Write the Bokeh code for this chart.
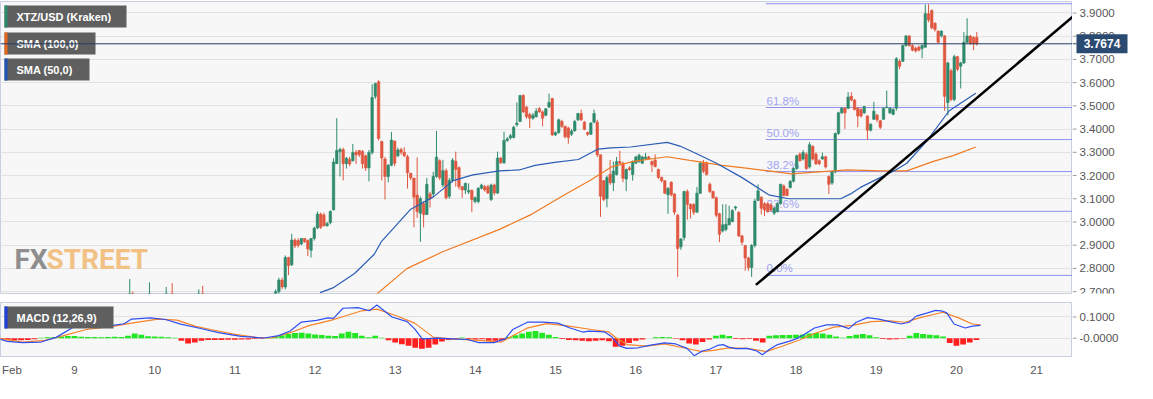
import numpy as np
from bokeh.plotting import figure
from bokeh.models import Range1d, FixedTicker, Span, Label, BoxAnnotation, ColumnDataSource, Grid
from bokeh.layouts import column, row
from bokeh.embed import file_html
from bokeh.resources import INLINE
from bokeh.core.properties import value

# ---------------- data ----------------
# hourly candles, Feb 11 ~13:00 .. Feb 20 ~07:00 (x in days of February)
CANDLE_START, CANDLE_END = 11.509, 20.254
OPEN = [2.69,2.70,2.75,2.72,2.847,2.816,2.922,2.92,2.905,2.929, 2.92,2.878,2.929,2.974,3.034,3.03,2.984,2.997,3.052,3.251,
        3.303,3.312,3.251,3.27,3.264,3.30,3.308,3.303,3.285,3.233, 3.299,3.541,3.604,3.347,3.271,3.196,3.244,3.349,3.285,3.312,
        3.30,3.281,3.21,3.189,3.116,3.038,3.079,3.032,3.121,3.121, 3.196,3.264,
        3.159,3.221,3.111,3.179,3.262,3.234,3.152,3.138,3.129,3.136, 3.088,3.088,3.145,3.152,3.152,3.097,3.159,3.125,3.275,3.255,
        3.351,3.362,3.364,3.419,3.433,3.545,3.495,3.463,3.447,3.453, 3.488,3.474,3.460,3.495,3.532,3.375,3.385,3.433,3.412,3.405,
        3.378,3.392,3.440,3.467,3.430,3.385,3.378,3.430,3.43,3.289,
        3.178,3.101,3.205,3.169,3.205,3.26,3.253,3.185,3.233,3.205, 3.253,3.26,3.253,3.273,3.28,3.26,3.267,3.226,3.192,3.178,
        3.117,3.171,3.120,3.029,2.893,2.933,3.131,3.076,3.076,3.042, 3.124,3.253,3.253,3.162,3.131,3.104,3.035,2.961,2.968,2.988,
        3.001,3.06,3.042,2.940,2.899,2.845,2.804,2.899,
        3.093,3.107,3.079,3.079,3.073,3.038,3.045,3.079,3.155,3.141, 3.148,3.175,3.230,3.292,3.271,3.292,3.237,3.326,3.292,3.264,
        3.271,3.281,3.196,3.168,3.216,3.381,3.470,3.490,3.490,3.541, 3.525,3.490,3.484,3.470,3.456,3.395,3.442,3.46,3.436,3.442,
        3.493,3.470,3.463,
        3.49,3.692,3.692,3.760,3.801,3.760,3.749,3.753,3.747,3.753, 3.897,3.911,3.856,3.822,3.801,3.801,3.514,3.651,3.527,3.712,
        3.671,3.685,3.774,3.801,3.795,3.795]
HIGH = [2.71,2.76,2.76,2.856,2.85,2.949,2.93,2.93,2.93,2.93, 2.925,2.93,2.98,3.045,3.04,3.04,3.00,3.05,3.274,3.447,
        3.32,3.32,3.28,3.28,3.336,3.31,3.31,3.31,3.29,3.31, 3.593,3.60,3.61,3.35,3.28,3.25,3.388,3.35,3.32,3.32,
        3.322,3.29,3.21,3.19,3.278,3.11,3.09,3.189,3.13,3.216, 3.392,3.27,
        3.268,3.23,3.19,3.275,3.303,3.24,3.155,3.17,3.166,3.14, 3.11,3.15,3.165,3.16,3.16,3.165,3.165,3.303,3.28,3.389,
        3.365,3.38,3.415,3.515,3.545,3.55,3.50,3.47,3.47,3.49, 3.495,3.48,3.49,3.553,3.535,3.39,3.445,3.44,3.415,3.41,
        3.40,3.44,3.47,3.484,3.435,3.39,3.43,3.484,3.44,3.29,
        3.18,3.20,3.267,3.26,3.28,3.307,3.26,3.23,3.24,3.265, 3.285,3.294,3.285,3.297,3.285,3.265,3.291,3.23,3.195,3.18,
        3.15,3.175,3.125,3.035,2.93,3.135,3.14,3.08,3.08,3.151, 3.26,3.267,3.26,3.17,3.135,3.11,3.04,3.076,3.076,3.07,
        3.055,3.07,3.045,2.945,2.90,2.85,2.905,3.10,
        3.162,3.11,3.085,3.085,3.08,3.065,3.085,3.165,3.162,3.145, 3.18,3.235,3.29,3.30,3.31,3.30,3.344,3.33,3.30,3.27,
        3.299,3.285,3.20,3.22,3.385,3.475,3.495,3.495,3.559,3.559, 3.53,3.495,3.49,3.50,3.46,3.425,3.518,3.465,3.44,3.495,
        3.566,3.495,3.49,
        3.71,3.70,3.765,3.805,3.805,3.765,3.755,3.76,3.765,3.936, 3.938,3.915,3.86,3.825,3.825,3.805,3.69,3.66,3.72,3.715,
        3.69,3.818,3.877,3.805,3.80,3.818]
LOW = [2.68,2.69,2.71,2.71,2.771,2.81,2.888,2.89,2.90,2.91, 2.853,2.847,2.92,2.97,2.97,2.98,2.98,2.99,3.05,3.25,
       3.196,3.179,3.23,3.24,3.26,3.25,3.28,3.23,3.22,3.175, 3.29,3.53,3.35,3.179,3.097,3.171,3.24,3.24,3.28,3.29,
       3.28,3.144,3.18,2.977,3.018,2.915,2.977,3.03,3.062,3.11, 3.19,3.18,
       3.15,3.097,3.10,3.17,3.152,3.14,3.104,3.12,3.12,3.042, 3.08,3.08,3.14,3.13,3.12,3.09,3.115,3.12,3.25,3.25,
       3.345,3.355,3.36,3.41,3.43,3.47,3.445,3.405,3.44,3.45, 3.47,3.412,3.455,3.49,3.37,3.37,3.38,3.405,3.36,3.337,
       3.37,3.39,3.435,3.435,3.395,3.37,3.375,3.425,3.28,3.022,
       3.09,3.063,3.16,3.133,3.20,3.25,3.171,3.133,3.22,3.178, 3.25,3.255,3.25,3.27,3.27,3.215,3.235,3.185,3.17,3.12,
       3.035,3.11,3.03,2.763,2.88,2.92,3.01,3.015,3.03,3.04, 3.12,3.21,3.20,3.125,3.10,3.02,2.913,2.955,2.96,2.985,
       3.0,3.05,2.935,2.90,2.790,2.79,2.763,2.89,
       3.09,3.032,3.025,3.04,3.045,3.03,3.04,3.075,3.11,3.11, 3.145,3.17,3.225,3.26,3.265,3.225,3.23,3.265,3.245,3.245,
       3.268,3.23,3.121,3.16,3.21,3.375,3.465,3.401,3.485,3.52, 3.48,3.408,3.45,3.465,3.353,3.39,3.44,3.43,3.40,3.44,
       3.49,3.465,3.46,
       3.48,3.658,3.69,3.755,3.755,3.735,3.73,3.735,3.705,3.75, 3.86,3.83,3.82,3.77,3.795,3.479,3.459,3.52,3.52,3.65,
       3.575,3.68,3.77,3.765,3.74,3.76]
CLOSE = [2.70,2.75,2.72,2.847,2.812,2.922,2.897,2.90,2.929,2.915, 2.884,2.929,2.973,3.034,2.977,2.984,2.993,3.045,3.258,3.308,
         3.312,3.251,3.274,3.25,3.299,3.289,3.289,3.251,3.233,3.299, 3.536,3.596,3.36,3.275,3.196,3.244,3.353,3.253,3.31,3.30,
         3.285,3.212,3.19,3.107,3.045,3.10,3.032,3.162,3.10,3.196, 3.279,3.19,
         3.221,3.104,3.179,3.266,3.227,3.152,3.138,3.166,3.136,3.097, 3.104,3.145,3.159,3.138,3.125,3.159,3.125,3.275,3.255,3.351,
         3.358,3.371,3.408,3.426,3.545,3.474,3.453,3.447,3.46,3.477, 3.474,3.447,3.488,3.515,3.375,3.385,3.44,3.412,3.367,3.364,
         3.392,3.433,3.467,3.440,3.399,3.378,3.426,3.467,3.289,3.111,
         3.097,3.192,3.169,3.219,3.26,3.253,3.188,3.226,3.226,3.26, 3.280,3.287,3.28,3.28,3.273,3.246,3.239,3.192,3.178,3.124,
         3.144,3.117,3.042,2.886,2.927,3.131,3.076,3.056,3.042,3.124, 3.253,3.219,3.205,3.131,3.104,3.029,2.947,2.988,2.99,3.015,
         3.049,3.065,2.940,2.913,2.845,2.804,2.899,3.09,
         3.134,3.059,3.052,3.045,3.052,3.059,3.079,3.162,3.114,3.114, 3.175,3.230,3.285,3.264,3.299,3.230,3.333,3.271,3.251,3.251,
         3.281,3.237,3.162,3.216,3.381,3.470,3.490,3.470,3.538,3.525, 3.484,3.456,3.456,3.497,3.395,3.421,3.477,3.44,3.408,3.490,
         3.495,3.490,3.484,
         3.703,3.671,3.760,3.801,3.760,3.740,3.736,3.740,3.760,3.897, 3.870,3.836,3.829,3.774,3.822,3.541,3.685,3.527,3.712,3.658,
         3.685,3.774,3.801,3.767,3.767,3.767]

# a few earlier candles whose upper wicks just reach into view
EARLY_DAYS = [9.689, 9.726, 9.935, 10.144, 10.218, 10.550, 10.599]
EARLY_OPEN = [2.60, 2.66, 2.62, 2.63, 2.66, 2.64, 2.67]
EARLY_HIGH = [2.754, 2.700, 2.740, 2.720, 2.737, 2.710, 2.725]
EARLY_LOW = [2.58, 2.60, 2.60, 2.61, 2.60, 2.62, 2.61]
EARLY_CLOSE = [2.66, 2.62, 2.67, 2.66, 2.63, 2.67, 2.64]

SMA50_DAYS = [12.063,12.223,12.493,12.739,12.825,13.194,13.477,13.723,13.969,14.301,14.547,14.744,14.990,15.285,15.531,15.691,15.937,
              16.392,16.552,16.761,17.007,17.327,17.659,17.905,18.237,18.557,18.680,18.803,19.049,19.221,19.381,19.627,19.910,20.242]
SMA50_VALS = [2.696,2.716,2.778,2.861,2.914,3.055,3.108,3.178,3.203,3.220,3.224,3.244,3.257,3.269,3.314,3.319,3.323,
              3.343,3.327,3.294,3.253,3.191,3.117,3.100,3.100,3.100,3.121,3.149,3.191,3.220,3.253,3.347,3.479,3.554]
SMA100_DAYS = [12.764,13.145,13.600,14.301,14.707,15.113,15.445,15.691,15.974,16.392,16.675,17.081,17.376,17.659,17.942,18.237,
               18.643,19.049,19.381,19.713,19.959,20.242]
SMA100_VALS = [2.688,2.799,2.873,2.968,3.034,3.117,3.182,3.236,3.261,3.281,3.265,3.244,3.232,3.220,3.207,3.215,
               3.224,3.220,3.220,3.261,3.286,3.323]

FIB_START = 17.622
FIB_LEVELS = [2.770, 3.046, 3.217, 3.355, 3.493, 3.940]
FIB_LABELS = ["0.0%", "23.6%", "38.2%", "50.0%", "61.8%", "100.0%"]

TREND_DAYS = [17.499, 21.448]
TREND_PRICES = [2.729, 3.883]

LAST_PRICE = 3.7674
LAST_PRICE_TEXT = "3.7674"

MACD_DAYS = [8.065,8.159,8.347,8.583,8.771,9.006,9.242,9.477,9.618,9.712,9.948,10.136,10.324,10.56,10.795,11.077,11.36,11.548,
             11.69,11.83,12.019,12.16,12.23,12.348,12.537,12.678,12.772,12.96,13.149,13.243,13.337,13.525,13.713,13.9,14.043,
             14.231,14.372,14.466,14.655,14.843,15.03,15.172,15.337,15.42,15.61,15.70,15.80,15.89,16.03,16.17,16.36,16.50,
             16.64,16.73,16.83,16.92,17.02,17.09,17.16,17.25,17.39,17.51,17.58,17.67,17.77,17.91,18.0,18.09,18.23,18.38,
             18.52,18.66,18.75,18.89,19.03,19.17,19.31,19.41,19.5,19.64,19.74,19.83,19.88,19.97,20.11,20.2,20.30]
MACD_VALS = [-0.003,-0.015,-0.021,-0.018,0.004,0.056,0.074,0.060,0.068,0.090,0.096,0.088,0.066,0.047,0.026,0.009,0.001,0.012,
             0.034,0.076,0.084,0.096,0.093,0.141,0.144,0.129,0.156,0.100,0.078,0.044,-0.003,0.0,-0.003,-0.006,-0.021,
             -0.021,-0.003,0.041,0.076,0.076,0.071,0.049,0.029,0.033,0.030,0.007,-0.037,-0.048,-0.045,-0.034,-0.022,-0.027,
             -0.048,-0.082,-0.060,-0.052,-0.034,-0.030,-0.042,-0.049,-0.048,-0.060,-0.078,-0.052,-0.030,-0.015,-0.003,0.015,0.048,0.063,
             0.063,0.045,0.075,0.097,0.090,0.078,0.067,0.075,0.104,0.119,0.131,0.127,0.119,0.067,0.048,0.057,0.060]
SIGNAL_DAYS = [8.065,8.347,8.63,8.865,9.148,9.477,9.712,10.042,10.277,10.513,10.70,10.983,11.266,11.454,11.69,11.925,12.207,
               12.395,12.584,12.772,13.007,13.243,13.478,13.713,14.043,14.325,14.466,14.655,14.89,15.125,15.445,15.66,15.75,
               15.89,16.13,16.36,16.59,16.83,16.97,17.16,17.39,17.63,17.86,18.05,18.23,18.47,18.70,18.94,19.17,19.36,19.55,
               19.83,20.02,20.2,20.30]
SIGNAL_VALS = [0.0,-0.018,-0.010,0.012,0.041,0.056,0.071,0.090,0.085,0.056,0.041,0.019,0.004,0.001,0.026,0.059,0.085,
               0.107,0.129,0.137,0.107,0.071,0.004,-0.003,-0.010,-0.018,0.012,0.049,0.069,0.059,0.041,0.030,0.003,
               -0.030,-0.037,-0.027,-0.045,-0.063,-0.057,-0.045,-0.048,-0.063,-0.033,-0.007,0.022,0.052,0.060,0.078,0.082,0.075,0.097,
               0.122,0.097,0.067,0.063]
# MACD histogram, 2-hour steps from Feb 8 02:00
HIST_START = 8.0 + 1.0 / 12
HIST_VALS = [-0.006,-0.009,-0.010,-0.010,-0.008,-0.005,0.002,0.004,0.006,0.008,0.010,
             0.010,0.007,0.006,0.006,0.005,0.006,0.007,0.006,0.012,0.022,0.016,0.009,
             0.008,0.007,0.004,0.002,-0.012,-0.025,-0.020,-0.012,-0.008,-0.008,-0.008,-0.007,
             -0.007,-0.006,-0.006,-0.004,-0.002,0.001,0.008,0.014,0.020,0.025,0.026,0.022,
             0.018,0.015,0.012,0.010,0.022,0.030,0.025,0.012,0.004,0.012,0.002,-0.010,
             -0.020,-0.028,-0.035,-0.045,-0.050,-0.045,-0.030,-0.015,-0.008,-0.005,0.003,-0.004,
             -0.006,-0.005,-0.012,-0.012,-0.008,0.006,0.014,0.022,0.030,0.034,0.026,0.016,
             0.006,-0.004,-0.008,-0.010,-0.012,-0.014,-0.012,-0.010,-0.014,-0.040,-0.035,-0.022,
             -0.012,-0.006,0.000,0.004,0.006,0.005,-0.002,-0.010,-0.025,-0.030,-0.018,-0.006,
             0.012,0.016,0.010,-0.004,-0.005,-0.004,-0.012,-0.020,0.012,0.014,0.015,0.015,
             0.016,0.018,0.022,0.025,0.022,0.016,0.008,0.002,0.010,0.016,0.020,0.014,
             0.005,-0.004,-0.006,-0.005,-0.002,0.012,0.024,0.020,0.016,0.014,0.008,-0.022,
             -0.036,-0.030,-0.020,-0.008]

X_TICKS = [8.22, 9, 10, 11, 12, 13, 14, 15, 16, 17, 18, 19, 20, 21]
X_LABELS = ["Feb", "9", "10", "11", "12", "13", "14", "15", "16", "17", "18", "19", "20", "21"]
Y_TICKS = [2.7, 2.8, 2.9, 3.0, 3.1, 3.2, 3.3, 3.4, 3.5, 3.6, 3.7, 3.8, 3.9]
Y_LABELS = ["2.7000", "2.8000", "2.9000", "3.0000", "3.1000", "3.2000", "3.3000", "3.4000", "3.5000",
            "3.6000", "3.7000", "3.8000", "3.9000"]
MACD_TICKS = [0.0, 0.1]
MACD_LABELS = ["-0.0000", "0.1000"]

# ---------------- style ----------------
FONT = "Liberation Sans"
GREEN = "#2f8a6d"
RED = "#e0573f"
BG = "#f7f7f7"
GRID = "#e2e2e2"
BORDER = "#c9cfe3"
FW, FH1, FH2, RW = 1072, 292, 54, 63
X0, X1 = 8.077, 21.448

x_range = Range1d(X0, X1)
y1_range = Range1d(2.692, 3.9495)
y2_range = Range1d(-0.086, 0.168)


def base(p, yticks):
    p.background_fill_color = BG
    p.border_fill_color = "white"
    p.outline_line_color = BORDER
    p.xgrid.visible = False
    p.ygrid.visible = False
    p.add_layout(Grid(dimension=1, ticker=FixedTicker(ticks=yticks), grid_line_color=GRID))


def price_axis(y_range, fh, ticks, labels, bottom):
    r = figure(frame_width=RW, frame_height=fh, x_range=Range1d(0, RW), y_range=y_range,
               output_backend="svg", toolbar_location=None, x_axis_location=None, y_axis_location=None,
               min_border_left=0, min_border_right=0, min_border_top=0, min_border_bottom=bottom)
    r.background_fill_color = "white"
    r.border_fill_color = "white"
    r.outline_line_color = None
    r.xgrid.visible = False
    r.ygrid.visible = False
    r.segment(x0=[0] * len(ticks), y0=ticks, x1=[4] * len(ticks), y1=ticks, line_color="#9a9a9a", line_width=1)
    r.text(x=[7] * len(ticks), y=ticks, text=labels, text_baseline="middle", text_align="left",
           text_font=value(FONT), text_font_size="11.5px", text_color="#555555")
    return r


def legend_box(p, fh, top, left, right, stripe, text):
    kw = dict(left_units="screen", right_units="screen", top_units="screen", bottom_units="screen", line_color=None)
    p.add_layout(BoxAnnotation(left=left, right=right, top=fh - top, bottom=fh - top - 22,
                               fill_color="#5f5f5f", fill_alpha=1.0, **kw))
    p.add_layout(BoxAnnotation(left=left, right=left + 3, top=fh - top, bottom=fh - top - 22,
                               fill_color=stripe, fill_alpha=1.0, **kw))
    p.add_layout(Label(x=left + 12, y=fh - top - 11, x_units="screen", y_units="screen", text=text,
                       text_font=FONT, text_font_size="11px", text_font_style="bold", text_color="white",
                       text_baseline="middle"))


# ---------------- main price panel ----------------
p1 = figure(frame_width=FW, frame_height=FH1, x_range=x_range, y_range=y1_range,
            output_backend="svg", toolbar_location=None, x_axis_location=None, y_axis_location=None,
            min_border_left=0, min_border_right=0, min_border_top=1, min_border_bottom=9)
base(p1, Y_TICKS)

# fib retracement
for lv in FIB_LEVELS:
    p1.segment(x0=[FIB_START], y0=[lv], x1=[X1], y1=[lv], line_color="#9090ee", line_width=1)
p1.text(x=[FIB_START + 0.01] * len(FIB_LEVELS), y=FIB_LEVELS, text=FIB_LABELS, text_baseline="bottom",
        y_offset=-1, text_font=value(FONT), text_font_size="11.5px", text_color="#a2a4f2")

# watermark
p1.add_layout(Label(x=14, y=18, x_units="screen", y_units="screen", text="FX", text_font="Roboto",
                    text_font_size="28px", text_font_style="bold", text_color="#8e8e8e"))
p1.add_layout(Label(x=46, y=18, x_units="screen", y_units="screen", text="STREET", text_font="Roboto",
                    text_font_size="28px", text_font_style="bold", text_color="#f2c185"))

# candles
o = np.array(EARLY_OPEN + OPEN)
c = np.array(EARLY_CLOSE + CLOSE)
h = np.array(EARLY_HIGH + HIGH)
l = np.array(EARLY_LOW + LOW)
cx = np.concatenate([np.array(EARLY_DAYS), np.linspace(CANDLE_START, CANDLE_END, len(OPEN))])
cols = np.where(c >= o, GREEN, RED)
src = ColumnDataSource(dict(x=cx, h=h, l=l, top=np.maximum(o, c), bot=np.minimum(o, c), col=cols))
p1.segment(x0="x", y0="h", x1="x", y1="l", source=src, line_color="col", line_width=1)
p1.vbar(x="x", width=0.031, top="top", bottom="bot", source=src, fill_color="col", line_color="col", line_width=0.6)

# moving averages and trend line
p1.line(SMA100_DAYS, SMA100_VALS, line_color="#f07a22", line_width=1.2)
p1.line(SMA50_DAYS, SMA50_VALS, line_color="#2a5db5", line_width=1.2)
p1.line(TREND_DAYS, TREND_PRICES, line_color="black", line_width=2.5)

legend_box(p1, FH1, 4, 4, 126, "#2f8a6d", "XTZ/USD (Kraken)")
legend_box(p1, FH1, 31, 4, 95, "#e8691c", "SMA (100,0)")
legend_box(p1, FH1, 57, 4, 89, "#1f55b5", "SMA (50,0)")

p1.add_layout(Span(location=LAST_PRICE, dimension="width", line_color="#243d64", line_width=1))

r1 = price_axis(y1_range, FH1, Y_TICKS, Y_LABELS, 9)
r1.rect(x=[29.5], y=[LAST_PRICE], width=[51], height=[19], height_units="screen",
        fill_color="#2b4a72", line_color=None)
r1.text(x=[29.5], y=[LAST_PRICE], text=[LAST_PRICE_TEXT], text_align="center", text_baseline="middle",
        text_font=value(FONT), text_font_size="12px", text_font_style="bold", text_color="white")
r1.segment(x0=[0], y0=[LAST_PRICE], x1=[4], y1=[LAST_PRICE], line_color="#243d64", line_width=1)

# ---------------- MACD panel ----------------
p2 = figure(frame_width=FW, frame_height=FH2, x_range=x_range, y_range=y2_range,
            output_backend="svg", toolbar_location=None, y_axis_location=None,
            min_border_left=0, min_border_right=0, min_border_top=0, min_border_bottom=26)
base(p2, MACD_TICKS)
p2.xaxis.ticker = FixedTicker(ticks=X_TICKS)
p2.xaxis.major_label_overrides = dict(zip(X_TICKS, X_LABELS))
p2.xaxis.major_label_text_font = FONT
p2.xaxis.major_label_text_font_size = "11.5px"
p2.xaxis.major_label_text_color = "#555555"
p2.xaxis.major_tick_out = 0
p2.xaxis.major_tick_in = 0
p2.xaxis.minor_tick_line_color = None
p2.xaxis.axis_line_color = BORDER
p2.xaxis.major_label_standoff = 7

hx = HIST_START + np.arange(len(HIST_VALS)) / 12.0
hv = np.array(HIST_VALS)
hsrc = ColumnDataSource(dict(x=hx, top=hv, col=np.where(hv >= 0, "#22e622", "#ff1f1f")))
p2.vbar(x="x", top="top", bottom=0, width=0.072, source=hsrc, fill_color="col", line_color=None)
p2.line(SIGNAL_DAYS, SIGNAL_VALS, line_color="#f5842a", line_width=1.2)
p2.line(MACD_DAYS, MACD_VALS, line_color="#2f4ff0", line_width=1.2)
legend_box(p2, FH2, 4, 4, 113, "#1d3fe0", "MACD (12,26,9)")

r2 = price_axis(y2_range, FH2, MACD_TICKS, MACD_LABELS, 26)

layout = column(row(p1, r1, spacing=0), row(p2, r2, spacing=0), spacing=0)
open("out.html", "w").write(file_html(layout, INLINE))
